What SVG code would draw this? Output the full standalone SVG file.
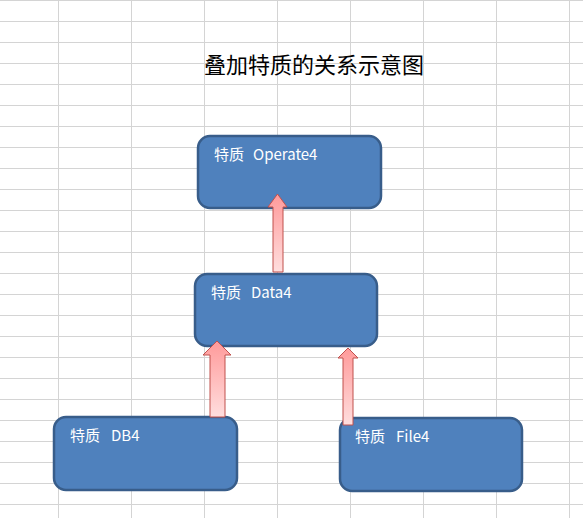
<svg xmlns="http://www.w3.org/2000/svg" width="583" height="518" viewBox="0 0 583 518">
<style>
.grid line{stroke:#d4d4d4;stroke-width:1}
.box{fill:#4f81bd;stroke:#385d8a;stroke-width:2.5}
.lbl{font-family:"Noto Sans CJK SC","Noto Sans",sans-serif;font-size:15px;fill:#ffffff}
.title{font-family:"Noto Sans CJK SC",sans-serif;font-size:22px;fill:#000000}
.arr{fill:url(#ag);stroke:#c0504d;stroke-width:1}
</style>
<defs>
<linearGradient id="ag" x1="0" y1="0" x2="0" y2="1">
<stop offset="0" stop-color="#ff9a9a"/>
<stop offset="1" stop-color="#ffdede"/>
</linearGradient>
</defs>
<rect width="583" height="518" fill="#ffffff"/>
<g class="grid">
<line x1="0" y1="0.5" x2="583" y2="0.5"/>
<line x1="0" y1="21.5" x2="583" y2="21.5"/>
<line x1="0" y1="42.5" x2="583" y2="42.5"/>
<line x1="0" y1="63.5" x2="583" y2="63.5"/>
<line x1="0" y1="84.5" x2="583" y2="84.5"/>
<line x1="0" y1="105.5" x2="583" y2="105.5"/>
<line x1="0" y1="126.5" x2="583" y2="126.5"/>
<line x1="0" y1="147.5" x2="583" y2="147.5"/>
<line x1="0" y1="168.5" x2="583" y2="168.5"/>
<line x1="0" y1="189.5" x2="583" y2="189.5"/>
<line x1="0" y1="210.5" x2="583" y2="210.5"/>
<line x1="0" y1="231.5" x2="583" y2="231.5"/>
<line x1="0" y1="252.5" x2="583" y2="252.5"/>
<line x1="0" y1="273.5" x2="583" y2="273.5"/>
<line x1="0" y1="294.5" x2="583" y2="294.5"/>
<line x1="0" y1="315.5" x2="583" y2="315.5"/>
<line x1="0" y1="336.5" x2="583" y2="336.5"/>
<line x1="0" y1="357.5" x2="583" y2="357.5"/>
<line x1="0" y1="378.5" x2="583" y2="378.5"/>
<line x1="0" y1="399.5" x2="583" y2="399.5"/>
<line x1="0" y1="420.5" x2="583" y2="420.5"/>
<line x1="0" y1="441.5" x2="583" y2="441.5"/>
<line x1="0" y1="462.5" x2="583" y2="462.5"/>
<line x1="0" y1="483.5" x2="583" y2="483.5"/>
<line x1="0" y1="504.5" x2="583" y2="504.5"/>
<line x1="58.5" y1="0" x2="58.5" y2="518"/>
<line x1="131.5" y1="0" x2="131.5" y2="518"/>
<line x1="204.5" y1="0" x2="204.5" y2="518"/>
<line x1="277.5" y1="0" x2="277.5" y2="518"/>
<line x1="350.5" y1="0" x2="350.5" y2="518"/>
<line x1="423.5" y1="0" x2="423.5" y2="518"/>
<line x1="496.5" y1="0" x2="496.5" y2="518"/>
<line x1="569.5" y1="0" x2="569.5" y2="518"/>
</g>
<text class="title" x="204" y="73">叠加特质的关系示意图</text>
<g id="node-operate4">
<rect class="box" x="198" y="136" width="183" height="72" rx="12"/>
<text class="lbl" x="214" y="160">特质 <tspan x="253">Operate4</tspan></text>
</g>
<g id="node-data4">
<rect class="box" x="195" y="274" width="182" height="72" rx="12"/>
<text class="lbl" x="211" y="298">特质 <tspan x="251">Data4</tspan></text>
</g>
<g id="node-db4">
<rect class="box" x="54" y="417" width="183" height="73" rx="12"/>
<text class="lbl" x="70" y="441">特质 <tspan x="111">DB4</tspan></text>
</g>
<g id="node-file4">
<rect class="box" x="340" y="418" width="182" height="73" rx="12"/>
<text class="lbl" x="355" y="442">特质 <tspan x="396">File4</tspan></text>
</g>
<g id="connectors">
<path class="arr" d="M277.5,194 L287,207 L283,207 L283,272 L273,272 L273,207 L268,207 Z"/>
<path class="arr" d="M217,341 L231,355 L225,355 L225,417 L210,417 L210,355 L203,355 Z"/>
<path class="arr" d="M348,348 L358,358 L353,358 L353,425 L343,425 L343,358 L338,358 Z"/>
</g>
</svg>
